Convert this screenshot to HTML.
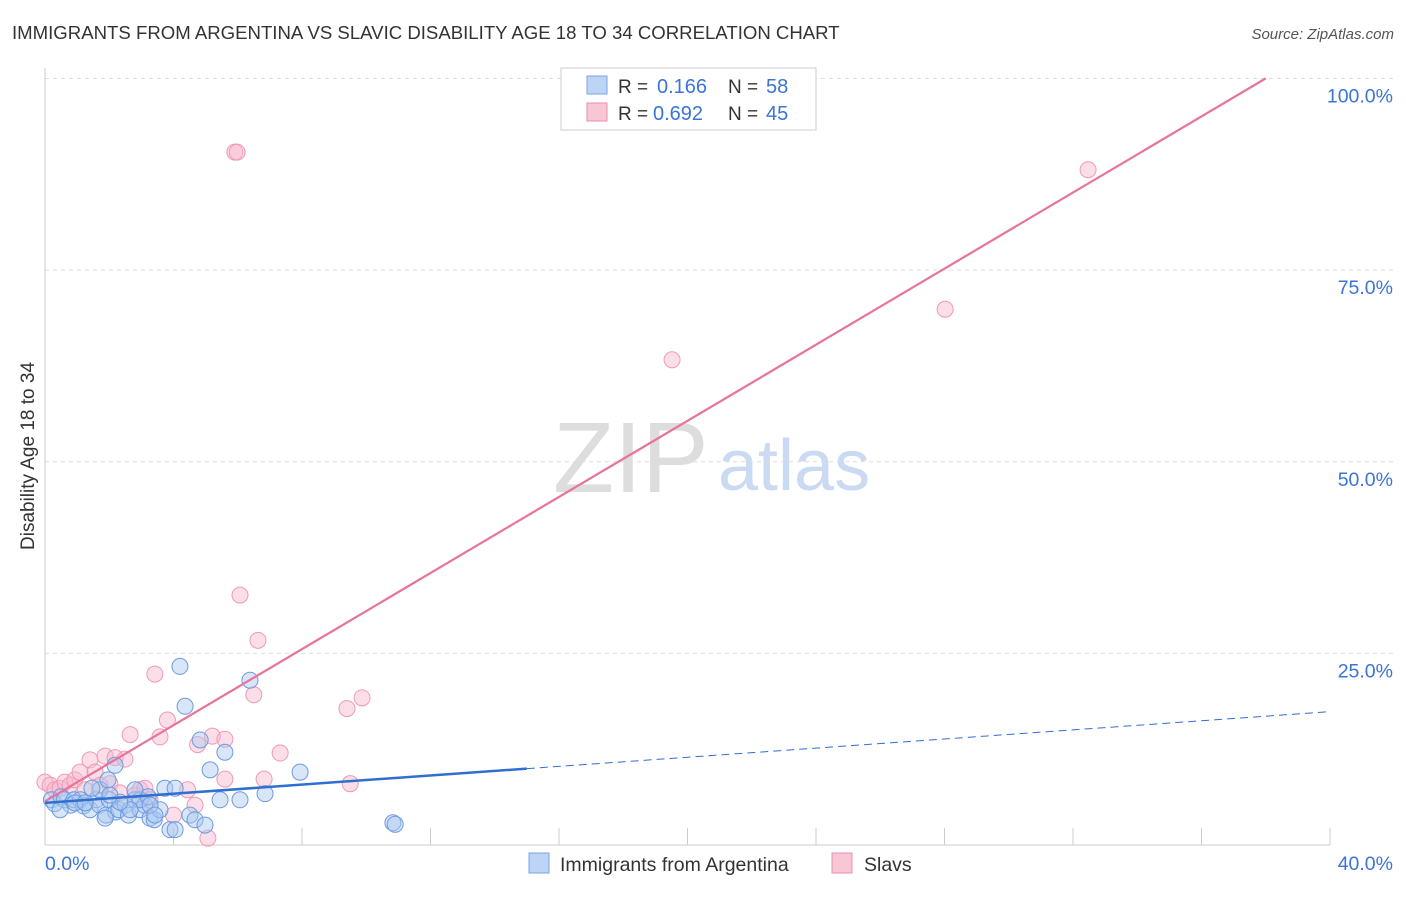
<!DOCTYPE html>
<html><head><meta charset="utf-8"><style>
body{margin:0;background:#fff;font-family:"Liberation Sans",sans-serif}
svg text{font-family:"Liberation Sans",sans-serif}
</style></head><body>
<svg width="1406" height="892" id="chart">
<text x="12" y="39" font-size="18.6" fill="#333">IMMIGRANTS FROM ARGENTINA VS SLAVIC DISABILITY AGE 18 TO 34 CORRELATION CHART</text>
<text x="1394" y="39" font-size="15" fill="#555" font-style="italic" text-anchor="end">Source: ZipAtlas.com</text>
<text x="34" y="456" font-size="19" fill="#333" text-anchor="middle" transform="rotate(-90 34 456)">Disability Age 18 to 34</text>
<text x="553" y="492" font-size="100" fill="#ddd" font-family="Liberation Serif">ZIP</text>
<text x="718" y="490" font-size="72" fill="#c9daf2">atlas</text>
<g id="grid"></g><g id="pts"></g><g id="lines"></g>
<g>
<rect x="561" y="68" width="255" height="62" fill="#fff" stroke="#ccc"/>
<rect x="587" y="76" width="20" height="18" fill="#bcd4f5" stroke="#7aa4e0"/>
<rect x="587" y="103" width="20" height="18" fill="#f9c6d6" stroke="#ea8fad"/>
<text x="618" y="93" font-size="19" fill="#333">R =</text><text x="657" y="93" font-size="20" fill="#3a74d6">0.166</text>
<text x="728" y="93" font-size="19" fill="#333">N =</text><text x="766" y="93" font-size="20" fill="#3a74d6">58</text>
<text x="618" y="120" font-size="19" fill="#333">R =</text><text x="653" y="120" font-size="20" fill="#3a74d6">0.692</text>
<text x="728" y="120" font-size="19" fill="#333">N =</text><text x="766" y="120" font-size="20" fill="#3a74d6">45</text>
</g>
<g>
<rect x="529" y="853" width="20" height="20" fill="#bcd4f5" stroke="#7aa4e0"/>
<text x="560" y="871" font-size="19.5" fill="#333">Immigrants from Argentina</text>
<rect x="832" y="853" width="20" height="20" fill="#f9c6d6" stroke="#ea8fad"/>
<text x="864" y="871" font-size="19.5" fill="#333">Slavs</text>
</g>
</svg>
<script>
const xTicks=[0,4,8,12,16,20,24,28,32,36,40];
const yTicks=[25,50,75,100];
const blueX=[0.2,0.3,0.5,0.6,0.8,0.9,1.1,1.2,1.4,1.6,1.7,1.9,2.0,2.2,2.3,2.5,2.6,2.8,2.96,3.1,3.27,3.4,3.58,3.73,3.89,4.05,4.2,4.36,4.51,4.67,4.83,4.98,5.14,5.45,5.6,6.07,6.38,6.85,7.94,10.83,10.9,1.87,2.18,2.96,3.21,1.71,0.47,0.93,1.25,2.65,2.33,3.27,3.42,4.05,1.46,1.96,2.8,2.02];
const blueY=[5.9,5.4,6.3,5.9,5.2,5.9,5.9,5.1,4.6,5.9,5.2,3.9,5.9,4.3,4.6,5.2,3.9,5.9,4.6,5.2,3.5,3.3,4.6,7.4,2.0,7.4,23.3,18.1,3.9,3.3,13.7,2.6,9.8,5.9,12.1,5.9,21.5,6.7,9.5,2.9,2.7,3.5,10.4,5.9,6.3,7.2,4.6,5.5,5.5,4.6,5.6,5.2,3.9,2.0,7.4,8.5,7.2,6.5];
const pinkX=[0,0.16,0.31,0.47,0.62,0.78,0.93,1.09,1.25,1.4,1.56,1.71,1.87,2.02,2.18,2.33,2.49,2.65,2.8,2.96,3.11,3.27,3.42,3.58,3.81,4.0,4.44,4.67,4.75,5.07,5.21,5.6,5.6,5.91,5.98,6.07,6.5,6.63,6.82,7.32,9.4,9.5,9.87,19.52,28.02,32.47];
const pinkY=[8.2,7.8,7.2,7.4,8.2,7.8,8.5,9.5,7.2,11.1,9.5,7.8,11.6,8.0,11.4,6.8,11.2,14.4,6.5,7.2,7.4,5.9,22.3,14.1,16.3,3.9,7.2,5.2,13.1,0.9,14.2,13.8,8.6,90.4,90.4,32.6,19.6,26.7,8.6,12.0,17.8,8.0,19.2,63.3,69.9,88.1];
const NS='http://www.w3.org/2000/svg';
const X=v=>45+v*32.125, Y=v=>845-v*7.665;
function mk(t,a,p){const e=document.createElementNS(NS,t);for(const k in a)e.setAttribute(k,a[k]);p.appendChild(e);return e;}
const grid=document.getElementById('grid'),pts=document.getElementById('pts'),lines=document.getElementById('lines');
for(const t of yTicks){const l=mk('line',{x1:45,x2:1394,y1:Y(t),y2:Y(t),stroke:'#ddd','stroke-dasharray':'4,4'},grid);


const tx=mk('text',{x:1393,y:Y(t)+24,'font-size':19.5,fill:'#3a74d6','text-anchor':'end'},grid);tx.textContent=t.toFixed(1)+'%';

}
mk('line',{x1:45,x2:45,y1:68,y2:845,stroke:'#ccc'},grid);
mk('line',{x1:45,x2:1330,y1:845,y2:845,stroke:'#ccc'},grid);
for(const t of xTicks){const l=mk('line',{x1:X(t),x2:X(t),y1:828,y2:845,stroke:'#ccc'},grid);

}
const xl0=mk('text',{x:45,y:870,'font-size':19.5,fill:'#3a74d6'},grid);xl0.textContent='0.0%';


const xl1=mk('text',{x:1393,y:870,'font-size':19.5,fill:'#3a74d6','text-anchor':'end'},grid);xl1.textContent='40.0%';


pinkX.forEach((x,i)=>{const c=mk('circle',{cx:X(x),cy:Y(pinkY[i]),r:8,fill:'rgba(248,182,203,0.45)',stroke:'#ee9ab5','stroke-width':1},pts);

});
blueX.forEach((x,i)=>{const c=mk('circle',{cx:X(x),cy:Y(blueY[i]),r:8,fill:'rgba(170,200,240,0.45)',stroke:'#6b9be0','stroke-width':1},pts);

});
const pl=mk('line',{x1:X(0),y1:Y(5.7),x2:X(38),y2:Y(5.7+2.482*38),stroke:'#e8739b','stroke-width':2.2},lines);


const bf=v=>5.5+v*0.2975;
const bl=mk('line',{x1:X(0),y1:Y(bf(0)),x2:X(15),y2:Y(bf(15)),stroke:'#2f6fd0','stroke-width':2.5},lines);


const bd=mk('line',{x1:X(15),y1:Y(bf(15)),x2:X(40),y2:Y(bf(40)),stroke:'#2f6fd0','stroke-width':1,'stroke-dasharray':'8,5'},lines);


</script>
</body></html>
